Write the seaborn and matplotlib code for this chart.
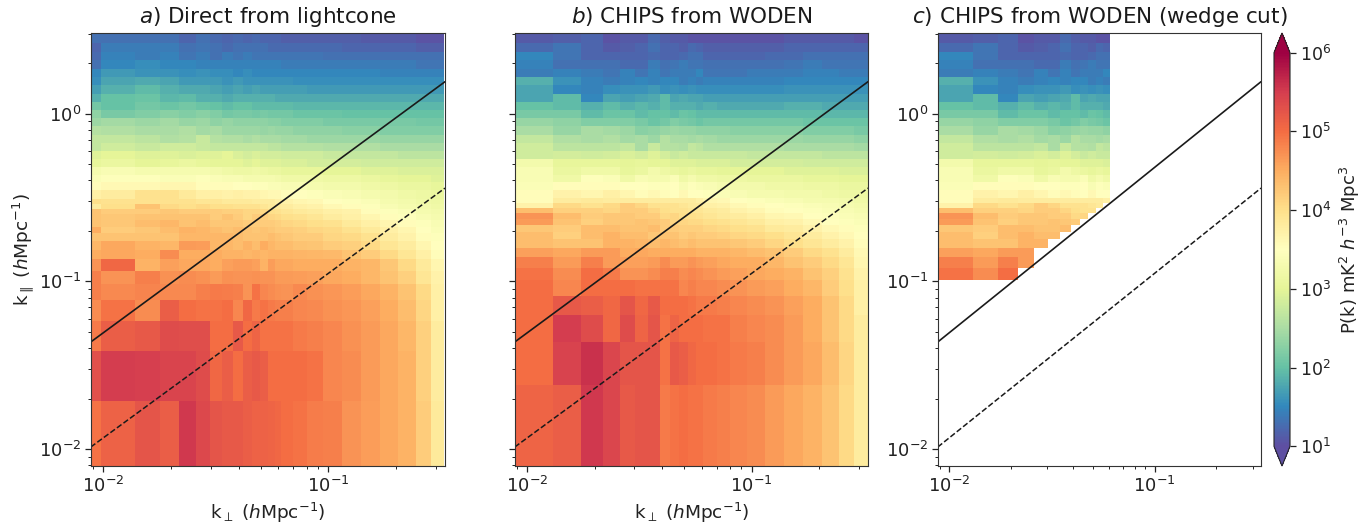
import numpy as np
import matplotlib
matplotlib.use("Agg")
import matplotlib.pyplot as plt
from matplotlib.colors import LogNorm
import seaborn as sns

# log10 of P(k). Rows run from low to high k_parallel.
upper_par_edges = [0.35,0.39,0.43,0.48,0.54,0.6,0.67,0.75,0.84,0.94,1.05,1.18,1.32,1.48,1.66,1.86,2.08,2.33,2.65,3.03]

a_par_edges = [0.0079,0.0193,0.0386,0.0579,0.0772,0.0965,0.1158,0.1351,0.1544,0.1737,0.193,0.2123,0.2316,0.2509,0.2702,0.2895,0.3088] + upper_par_edges
a_perp_edges = [0.0088,0.0098,0.0138,0.0178,0.0218,0.0258,0.0298,0.0338,0.0378,0.0418,0.0458,0.0498,0.0538,0.0578,0.0618,0.07,0.08,0.095,0.115,0.14,0.17,0.205,0.245,0.285,0.328]
a_logp = [
[4.95,5.12,5.25,5.15,5.55,5.38,5.25,5.2,5.2,5.15,5.12,5.12,5.1,5.05,5.0,4.95,4.88,4.85,4.7,4.62,4.55,4.45,4.2,3.85],
[5.3,5.5,5.48,5.42,5.42,5.35,5.05,5.15,5.0,5.15,5.2,5.15,5.0,5.0,5.0,5.0,4.95,4.8,4.75,4.65,4.55,4.45,4.15,3.8],
[4.9,5.15,5.2,5.35,5.33,5.33,5.0,5.0,5.2,5.0,5.1,4.95,4.95,4.95,4.95,4.9,4.85,4.8,4.72,4.65,4.55,4.4,4.15,3.8],
[4.75,4.95,4.75,5.15,5.0,4.95,4.95,5.0,4.8,5.05,4.9,4.95,4.9,4.85,4.85,4.8,4.78,4.72,4.68,4.6,4.5,4.35,4.1,3.75],
[4.85,4.78,4.82,4.78,4.78,4.85,4.9,4.88,4.85,4.7,4.95,4.8,4.75,4.72,4.7,4.78,4.72,4.68,4.62,4.55,4.45,4.3,4.05,3.75],
[4.85,4.7,4.85,4.72,4.75,4.72,4.65,4.72,4.7,4.7,4.72,4.7,4.7,4.65,4.65,4.62,4.6,4.55,4.5,4.4,4.3,4.15,3.9,3.7],
[4.7,5.05,4.45,4.6,4.55,4.55,4.5,4.6,4.65,4.65,4.6,4.45,4.62,4.55,4.55,4.5,4.5,4.5,4.45,4.4,4.25,4.05,3.85,3.65],
[4.5,4.55,4.5,4.75,4.5,4.5,4.5,4.45,4.45,4.4,4.45,4.4,4.45,4.45,4.45,4.42,4.4,4.38,4.3,4.2,4.05,3.9,3.75,3.55],
[4.4,4.55,4.45,4.4,4.65,4.62,4.4,4.4,4.35,4.45,4.35,4.5,4.4,4.35,4.35,4.3,4.28,4.2,4.15,4.05,3.9,3.8,3.65,3.5],
[4.3,4.3,4.3,4.3,4.4,4.4,4.4,4.4,4.35,4.3,4.3,4.3,4.35,4.3,4.25,4.2,4.2,4.1,4.05,3.95,3.8,3.7,3.55,3.45],
[4.5,4.2,4.25,4.35,4.45,4.4,4.35,4.3,4.35,4.3,4.25,4.3,4.25,4.2,4.2,4.15,4.1,4.05,3.95,3.85,3.75,3.65,3.5,3.4],
[4.3,4.25,4.35,4.4,4.3,4.35,4.25,4.25,4.25,4.2,4.2,4.2,4.2,4.15,4.1,4.05,4.0,3.95,3.85,3.75,3.65,3.55,3.45,3.35],
[4.3,4.25,4.3,4.3,4.3,4.3,4.2,4.3,4.2,4.1,4.2,4.15,4.1,4.05,4.0,3.95,3.9,3.8,3.75,3.65,3.55,3.45,3.35,3.3],
[4.3,4.2,4.2,4.25,4.2,4.2,4.2,4.15,4.15,4.1,4.1,4.05,4.0,3.95,3.9,3.85,3.8,3.75,3.7,3.55,3.45,3.4,3.3,3.25],
[3.8,4.0,4.3,4.05,4.0,4.05,4.0,4.0,3.95,3.95,3.95,3.9,3.85,3.85,3.8,3.75,3.7,3.6,3.55,3.45,3.35,3.3,3.25,3.2],
[4.0,3.95,3.95,3.95,3.95,3.9,3.9,3.85,3.85,3.85,3.8,3.8,3.8,3.75,3.7,3.65,3.6,3.5,3.45,3.4,3.3,3.25,3.2,3.15],
[3.75,3.8,3.95,3.95,3.85,3.75,3.75,3.7,3.75,3.7,3.7,3.65,3.6,3.6,3.55,3.5,3.45,3.4,3.35,3.3,3.25,3.2,3.15,3.1],
[3.55,3.6,3.6,3.65,3.65,3.55,3.55,3.55,3.5,3.5,3.45,3.45,3.4,3.4,3.35,3.35,3.3,3.25,3.25,3.2,3.15,3.1,3.1,3.05],
[3.4,3.45,3.45,3.4,3.4,3.45,3.4,3.35,3.35,3.3,3.3,3.3,3.3,3.25,3.2,3.2,3.2,3.15,3.15,3.1,3.05,3.0,3.0,2.95],
[3.3,3.35,3.3,3.3,3.3,3.3,3.25,3.2,3.15,3.15,3.2,3.15,3.1,3.1,3.05,3.05,3.05,3.0,3.0,2.95,2.95,2.9,2.9,2.9],
[3.05,3.1,3.0,3.05,3.1,3.05,3.0,3.0,3.0,2.95,3.0,2.95,2.95,2.95,2.9,2.9,2.85,2.85,2.85,2.8,2.8,2.8,2.8,2.8],
[2.95,3.0,2.95,2.95,2.9,2.95,2.95,3.0,2.9,2.85,2.9,2.85,2.85,2.85,2.8,2.8,2.8,2.75,2.7,2.7,2.7,2.65,2.65,2.65],
[2.7,2.8,2.75,2.8,2.8,2.75,2.7,2.7,2.7,2.7,2.7,2.7,2.65,2.65,2.6,2.6,2.6,2.55,2.55,2.55,2.5,2.5,2.5,2.5],
[2.7,2.7,2.65,2.55,2.6,2.75,2.6,2.55,2.55,2.5,2.55,2.5,2.5,2.5,2.45,2.45,2.4,2.4,2.4,2.4,2.35,2.35,2.35,2.35],
[2.6,2.55,2.5,2.5,2.55,2.45,2.5,2.4,2.4,2.4,2.4,2.35,2.4,2.35,2.35,2.3,2.3,2.3,2.25,2.25,2.2,2.2,2.2,2.2],
[2.4,2.45,2.4,2.45,2.35,2.4,2.3,2.35,2.3,2.3,2.3,2.3,2.25,2.25,2.2,2.2,2.2,2.15,2.15,2.15,2.15,2.15,2.1,2.1],
[2.3,2.15,2.2,2.25,2.2,2.25,2.2,2.1,2.15,2.15,2.1,2.15,2.1,2.1,2.1,2.05,2.05,2.05,2.0,2.0,2.0,2.0,2.0,2.0],
[2.1,2.0,2.1,2.05,2.1,2.05,2.0,1.95,2.0,2.0,1.95,1.95,1.95,1.95,1.95,1.9,1.9,1.9,1.9,1.9,1.9,1.9,1.9,1.9],
[1.85,2.0,2.05,1.9,1.95,1.85,1.85,1.8,1.85,1.85,1.85,1.85,1.85,1.8,1.8,1.8,1.8,1.8,1.8,1.8,1.8,1.8,1.8,1.8],
[1.7,1.85,1.95,1.85,1.8,1.8,1.75,1.7,1.75,1.7,1.75,1.7,1.7,1.7,1.7,1.7,1.65,1.65,1.65,1.65,1.65,1.65,1.65,1.65],
[1.55,1.75,1.8,1.75,1.65,1.65,1.65,1.6,1.65,1.6,1.6,1.6,1.6,1.6,1.6,1.55,1.55,1.55,1.55,1.55,1.55,1.55,1.55,1.55],
[1.5,1.65,1.6,1.6,1.55,1.6,1.55,1.55,1.5,1.55,1.5,1.5,1.5,1.5,1.5,1.5,1.5,1.5,1.5,1.5,1.45,1.45,1.45,1.45],
[1.3,1.5,1.55,1.5,1.5,1.45,1.45,1.45,1.45,1.45,1.45,1.45,1.45,1.45,1.4,1.4,1.4,1.4,1.4,1.4,1.4,1.4,1.35,1.35],
[1.25,1.45,1.4,1.45,1.35,1.4,1.3,1.4,1.35,1.4,1.35,1.35,1.35,1.35,1.35,1.35,1.35,1.3,1.3,1.3,1.3,1.3,1.3,1.3],
[1.2,1.4,1.4,1.4,1.3,1.35,1.3,1.25,1.3,1.3,1.3,1.3,1.25,1.25,1.25,1.25,1.25,1.25,1.2,1.2,1.2,1.2,1.15,1.15],
[1.3,1.3,1.3,1.3,1.2,1.3,1.25,1.2,1.25,1.2,1.25,1.2,1.2,1.2,1.15,1.15,1.15,1.15,1.15,1.1,1.1,1.1,1.05,1.05],
]

b_par_edges = [0.0079,0.024,0.0433,0.0626,0.0819,0.1012,0.1205,0.1398,0.1591,0.1784,0.1977,0.217,0.2363,0.2556,0.2749,0.2942,0.3135] + upper_par_edges
b_perp_edges = [0.0088,0.013,0.0173,0.0217,0.026,0.0303,0.0346,0.039,0.0433,0.0476,0.052,0.0563,0.0606,0.07,0.08,0.095,0.115,0.14,0.17,0.205,0.245,0.285,0.33]
b_logp = [
[5.1,5.15,5.55,5.4,5.2,5.25,5.25,4.9,4.95,5.0,4.95,4.95,4.9,4.85,4.8,4.75,4.65,4.55,4.45,4.3,4.05,3.8],
[5.0,5.45,5.6,5.4,5.25,5.25,5.25,4.95,5.2,5.15,5.05,5.0,5.0,4.95,4.9,4.85,4.75,4.65,4.55,4.35,4.1,3.8],
[5.0,5.5,5.35,5.05,5.35,5.1,5.25,4.95,5.1,5.0,5.0,5.0,4.95,4.95,4.85,4.8,4.75,4.65,4.5,4.3,4.05,3.8],
[5.0,5.2,5.15,5.05,5.25,5.05,5.2,5.0,5.0,5.0,4.95,4.9,4.9,4.85,4.8,4.75,4.7,4.6,4.5,4.3,4.05,3.75],
[5.0,4.8,5.0,5.0,5.0,4.95,4.95,4.95,4.95,4.8,4.85,4.8,4.8,4.75,4.7,4.65,4.6,4.5,4.4,4.2,4.0,3.75],
[4.95,4.75,5.0,4.9,4.7,4.7,4.75,4.85,4.85,4.75,4.8,4.75,4.7,4.65,4.6,4.55,4.5,4.45,4.3,4.15,3.95,3.7],
[4.85,4.65,4.85,4.65,4.6,4.6,4.65,4.75,4.65,4.65,4.7,4.65,4.6,4.55,4.5,4.5,4.4,4.3,4.2,4.05,3.9,3.65],
[4.6,4.55,4.65,4.65,4.5,4.55,4.5,4.5,4.5,4.5,4.5,4.45,4.45,4.45,4.4,4.35,4.3,4.2,4.05,3.95,3.8,3.6],
[4.35,4.3,4.3,4.45,4.45,4.4,4.35,4.4,4.35,4.3,4.35,4.3,4.3,4.3,4.25,4.2,4.1,4.0,3.9,3.8,3.7,3.55],
[4.35,4.15,4.35,4.45,4.35,4.35,4.25,4.3,4.3,4.2,4.25,4.2,4.2,4.15,4.1,4.05,4.0,3.9,3.8,3.7,3.6,3.5],
[4.25,4.2,4.35,4.35,4.3,4.3,4.35,4.2,4.2,4.15,4.15,4.15,4.1,4.05,4.0,3.95,3.85,3.8,3.7,3.6,3.55,3.45],
[4.65,4.3,4.15,4.25,4.25,4.3,4.25,4.2,4.1,4.1,4.05,4.05,4.0,3.95,3.9,3.85,3.75,3.7,3.6,3.5,3.45,3.4],
[4.7,4.35,4.2,4.25,4.25,4.2,4.2,4.05,4.1,4.0,4.0,3.95,3.9,3.85,3.8,3.75,3.65,3.6,3.5,3.45,3.4,3.35],
[4.35,4.15,4.15,4.1,4.2,4.2,4.1,4.0,3.95,3.95,3.9,3.9,3.85,3.8,3.7,3.65,3.55,3.5,3.45,3.4,3.35,3.3],
[3.7,4.05,3.95,4.05,4.2,4.1,3.95,3.95,3.95,3.9,3.85,3.85,3.75,3.7,3.6,3.55,3.5,3.45,3.4,3.35,3.3,3.25],
[3.55,3.8,3.85,3.8,3.8,3.8,3.8,3.8,3.8,3.8,3.8,3.75,3.65,3.6,3.5,3.45,3.4,3.35,3.3,3.3,3.25,3.2],
[3.55,3.7,3.65,3.75,3.65,3.55,3.6,3.55,3.5,3.6,3.5,3.5,3.45,3.4,3.35,3.3,3.3,3.25,3.25,3.2,3.15,3.15],
[3.4,3.55,3.55,3.55,3.5,3.5,3.45,3.45,3.5,3.35,3.45,3.4,3.35,3.3,3.25,3.25,3.2,3.2,3.15,3.15,3.1,3.1],
[3.35,3.2,3.45,3.4,3.2,3.35,3.3,3.3,3.4,3.2,3.3,3.2,3.2,3.15,3.15,3.1,3.1,3.1,3.05,3.05,3.0,3.0],
[3.35,3.1,3.2,3.2,3.05,3.1,3.25,3.15,3.1,3.05,3.1,3.05,3.05,3.0,3.0,3.0,3.0,2.95,2.95,2.95,2.9,2.9],
[3.25,3.05,3.05,3.05,3.0,3.05,3.0,3.0,2.95,2.95,2.95,2.9,2.9,2.9,2.85,2.85,2.85,2.85,2.8,2.8,2.8,2.8],
[2.8,2.85,2.8,2.85,2.9,2.85,2.95,2.85,2.75,2.8,2.75,2.75,2.75,2.75,2.75,2.7,2.7,2.7,2.7,2.65,2.65,2.65],
[2.8,2.65,2.65,2.65,2.7,2.5,2.75,2.6,2.6,2.55,2.7,2.65,2.55,2.55,2.55,2.55,2.55,2.5,2.5,2.5,2.5,2.45],
[2.7,2.55,2.5,2.55,2.45,2.5,2.4,2.6,2.5,2.5,2.45,2.5,2.45,2.4,2.4,2.4,2.4,2.4,2.35,2.35,2.35,2.3],
[2.5,2.35,2.5,2.45,2.4,2.25,2.3,2.35,2.4,2.35,2.35,2.3,2.3,2.3,2.25,2.25,2.25,2.25,2.2,2.2,2.2,2.15],
[2.35,2.3,2.2,2.2,2.2,2.15,2.05,2.1,2.2,2.15,2.1,2.05,2.1,2.1,2.1,2.1,2.1,2.1,2.05,2.05,2.05,2.05],
[2.15,2.15,1.95,2.05,2.05,1.95,2.0,2.0,1.95,2.05,2.0,1.95,1.95,1.95,1.95,1.95,1.95,1.95,1.95,1.9,1.9,1.9],
[2.0,1.95,1.85,1.95,1.85,1.9,1.85,1.95,1.85,1.85,1.85,1.8,1.85,1.8,1.8,1.8,1.8,1.85,1.85,1.8,1.8,1.8],
[1.75,1.95,1.5,1.75,1.7,1.75,1.8,1.95,1.75,1.8,1.75,1.75,1.7,1.7,1.7,1.7,1.7,1.7,1.7,1.7,1.7,1.7],
[1.75,1.5,1.45,1.55,1.6,1.6,1.65,1.55,1.6,1.55,1.6,1.55,1.55,1.55,1.55,1.55,1.55,1.6,1.6,1.6,1.6,1.6],
[1.85,1.6,1.45,1.4,1.45,1.5,1.45,1.5,1.5,1.4,1.45,1.4,1.45,1.45,1.45,1.45,1.45,1.5,1.5,1.5,1.5,1.5],
[1.4,1.45,1.4,1.35,1.45,1.35,1.45,1.35,1.4,1.4,1.4,1.5,1.35,1.35,1.35,1.4,1.4,1.4,1.45,1.45,1.4,1.4],
[1.45,1.3,1.3,1.3,1.25,1.25,1.4,1.3,1.35,1.4,1.35,1.35,1.3,1.3,1.3,1.3,1.3,1.35,1.4,1.35,1.35,1.35],
[1.5,1.35,1.2,1.2,1.2,1.2,1.25,1.2,1.2,1.25,1.3,1.3,1.2,1.2,1.2,1.2,1.25,1.25,1.3,1.3,1.3,1.3],
[1.25,1.35,1.2,1.1,1.15,1.2,1.3,1.2,1.2,1.15,1.25,1.2,1.15,1.15,1.15,1.15,1.15,1.2,1.2,1.2,1.2,1.2],
[1.1,1.15,1.2,1.05,1.1,1.1,1.25,1.15,1.1,1.1,1.05,1.05,1.05,1.05,1.05,1.05,1.05,1.1,1.1,1.1,1.1,1.05],
]

# Lowest k_parallel kept in each of the 12 columns of panel c
c_floor = [0.1012,0.1012,0.1012,0.1205,0.1591,0.1784,0.1977,0.217,0.2363,0.2556,0.2749,0.2942]

line_perp = [0.0088,0.33]
horizon_par = [0.0435,1.552]
beam_par = [0.01028,0.36]

titles = ["$a$) Direct from lightcone","$b$) CHIPS from WODEN","$c$) CHIPS from WODEN (wedge cut)"]
xlabel = r"k$_\perp$ ($h$Mpc$^{-1}$)"
ylabel = r"k$_\parallel$ ($h$Mpc$^{-1}$)"
cbar_label = r"P(k) mK$^2$ $h^{-3}$ Mpc$^3$"

sns.set_theme(style="ticks")
plt.rcParams["font.family"] = ["DejaVu Sans"]
W, H = 1364, 528
fig = plt.figure(figsize=(W/100, H/100), dpi=100)

def box(l, t, r, b):
    return [l/W, 1-b/H, (r-l)/W, (b-t)/H]

axes = [fig.add_axes(box(91,33,445,466)), fig.add_axes(box(515,33,868,466)), fig.add_axes(box(938,33,1261,466))]
cmap = sns.color_palette("Spectral_r", as_cmap=True)
norm = LogNorm(vmin=10, vmax=1e6)

b_power = 10**np.array(b_logp)
b_par = np.array(b_par_edges)
c_power = np.ma.array(b_power[:, :12], copy=True)
for j, floor in enumerate(c_floor):
    c_power[b_par[:-1] < floor - 1e-6, j] = np.ma.masked

meshes = [
    (a_perp_edges, a_par_edges, 10**np.array(a_logp)),
    (b_perp_edges, b_par_edges, b_power),
    (b_perp_edges[:13], b_par_edges, c_power),
]
for ax, (x, y, z), title in zip(axes, meshes, titles):
    pm = ax.pcolormesh(x, y, z, cmap=cmap, norm=norm, shading="flat", linewidth=0, rasterized=True)
    ax.plot(line_perp, horizon_par, color="k", lw=1.2)
    ax.plot(line_perp, beam_par, color="k", lw=1.1, ls="--")
    ax.set_xscale("log")
    ax.set_yscale("log")
    ax.set_xlim(0.00882, 0.33)
    ax.set_ylim(0.00792, 3.03)
    ax.set_title(title, fontsize=15.5, pad=7, color="k")
    ax.tick_params(axis="both", which="major", labelsize=13, length=4, width=0.9, pad=3, colors="#222222")
    ax.tick_params(axis="both", which="minor", length=2.2, width=0.7, colors="#222222")
    for s in ax.spines.values():
        s.set_linewidth(0.8)
        s.set_color("#333333")

axes[0].set_xlabel(xlabel, fontsize=13.3, color="#222222", labelpad=4)
axes[1].set_xlabel(xlabel, fontsize=13.3, color="#222222", labelpad=4)
axes[0].set_ylabel(ylabel, fontsize=13.3, color="#222222", labelpad=2)
axes[1].tick_params(axis="y", which="both", labelleft=False)

cax = fig.add_axes(box(1274,33,1290,466))
cb = fig.colorbar(pm, cax=cax, extend="both")
cb.set_label(cbar_label, fontsize=13, color="#222222", labelpad=5)
cb.ax.tick_params(which="major", labelsize=12.5, length=4, width=0.9, pad=3, colors="#222222")
cb.ax.tick_params(which="minor", length=0)
cb.outline.set_linewidth(0.8)

fig.savefig("out.png", dpi=100)
